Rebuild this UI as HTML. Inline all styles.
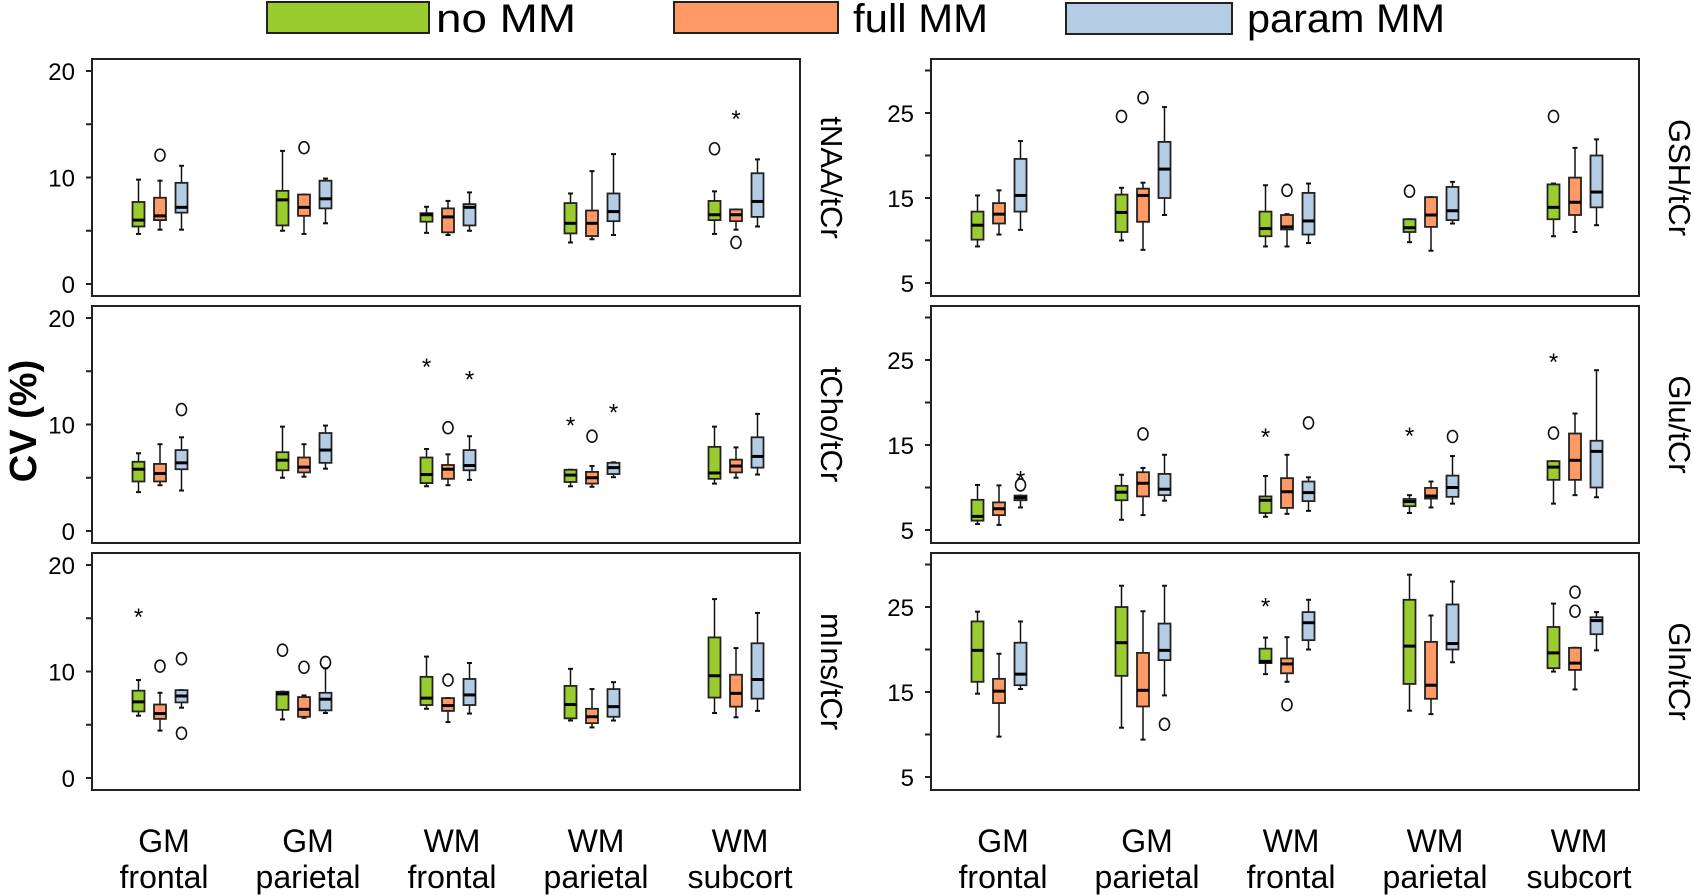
<!DOCTYPE html>
<html><head><meta charset="utf-8"><style>
html,body{margin:0;padding:0;background:#fff;}
svg{display:block;font-family:"Liberation Sans",Arial,sans-serif;}
</style></head><body>
<svg id="chart" width="1694" height="895" viewBox="0 0 1694 895" xmlns="http://www.w3.org/2000/svg">
<g>
<rect x="267" y="2" width="162" height="31" fill="#9acc30" stroke="#222" stroke-width="2"/>
<text x="436" y="32" font-size="40" textLength="140" lengthAdjust="spacingAndGlyphs">no MM</text>
<rect x="674" y="2" width="164" height="31" fill="#ff9966" stroke="#222" stroke-width="2"/>
<text x="853" y="32" font-size="40" textLength="135" lengthAdjust="spacingAndGlyphs">full MM</text>
<rect x="1066" y="3" width="166" height="31" fill="#b4cce4" stroke="#222" stroke-width="2"/>
<text x="1247" y="32" font-size="40" textLength="198" lengthAdjust="spacingAndGlyphs">param MM</text>
</g>
<text transform="translate(36,421) rotate(-90)" text-anchor="middle" font-size="38" font-weight="bold">CV (%)</text>
</svg>
<script>
const categories = [["GM","frontal"],["GM","parietal"],["WM","frontal"],["WM","parietal"],["WM","subcort"]];
const seriesNames = ["no MM","full MM","param MM"];
const leftTicks = [0,10,20];
const leftMinor = [5,15];
const rightTicks = [5,15,25];
const rightMinor = [10,20,30];

// [min, q1, median, q3, max] per category
const naaNoMM = [[4.7,5.4,6.0,7.7,9.8],[5.0,5.5,7.9,8.75,12.5],[4.8,5.85,6.5,6.65,7.25],[3.9,4.75,5.7,7.6,8.5],[4.7,6.0,6.5,7.8,8.7]];
const naaFull = [[5.1,6.0,6.4,8.1,9.7],[4.7,6.4,7.2,8.4,8.4],[4.6,4.85,6.3,7.1,7.8],[4.2,4.5,5.7,6.9,10.6],[5.1,5.9,6.5,7.0,7.0]];
const naaParam = [[5.1,6.7,7.2,9.5,11.1],[5.7,7.1,8.0,9.7,9.9],[5.0,5.5,7.2,7.5,8.6],[4.6,5.9,6.8,8.5,12.2],[5.4,6.3,7.75,10.4,11.7]];
const naaOutliers = [[0,1,12.1,"o"],[1,1,12.8,"o"],[4,0,12.7,"o"],[4,1,15.7,"*"],[4,1,3.9,"o"]];

const choNoMM = [[3.65,4.65,5.8,6.5,7.3],[5.0,5.7,6.65,7.4,9.8],[4.2,4.5,5.3,6.9,7.7],[4.2,4.6,5.25,5.75,5.75],[4.45,4.9,5.45,7.9,9.8]];
const choFull = [[4.3,4.65,5.4,6.3,8.15],[5.1,5.5,6.0,6.9,8.15],[4.3,4.9,5.8,6.2,7.2],[4.15,4.45,5.0,5.55,6.1],[5.0,5.5,6.1,6.7,7.85]];
const choParam = [[3.8,5.8,6.4,7.6,8.8],[5.85,6.4,7.6,9.2,9.9],[4.8,5.7,6.15,7.6,8.9],[5.05,5.35,5.95,6.4,6.45],[5.3,5.95,7.0,8.8,11.0]];
const choOutliers = [[0,2,11.4,"o"],[2,0,15.6,"*"],[2,1,9.7,"o"],[2,2,14.4,"*"],[3,0,10.1,"*"],[3,1,8.9,"o"],[3,2,11.3,"*"]];

const insNoMM = [[5.85,6.25,7.15,8.2,9.2],[5.5,6.4,7.9,8.1,8.1],[6.5,6.85,7.5,9.5,11.4],[5.4,5.6,6.9,8.65,10.25],[6.1,7.55,9.6,13.2,16.8]];
const insFull = [[4.45,5.55,6.05,6.9,8.0],[5.65,5.75,6.45,7.6,7.75],[5.25,6.3,6.8,7.5,7.5],[4.75,5.15,5.75,6.5,8.35],[5.7,6.7,7.95,9.7,12.2]];
const insParam = [[6.6,7.1,7.7,8.25,8.25],[6.1,6.35,7.4,8.0,10.3],[6.05,6.85,7.8,9.3,10.8],[5.4,5.75,6.7,8.35,9.0],[6.3,7.45,9.25,12.65,15.5]];
const insOutliers = [[0,0,15.3,"*"],[0,1,10.5,"o"],[0,2,11.2,"o"],[0,2,4.2,"o"],[1,0,12.0,"o"],[1,1,10.4,"o"],[1,2,10.85,"o"],[2,1,9.2,"o"]];

const gshNoMM = [[9.3,10.1,11.8,13.4,15.3],[10.0,11.0,13.3,15.4,16.2],[9.3,10.5,11.4,13.4,16.5],[9.8,11.0,11.5,12.5,12.5],[10.5,12.5,13.9,16.6,16.7]];
const gshFull = [[10.7,12.0,13.1,14.4,15.9],[8.9,12.2,15.3,16.1,16.8],[9.3,11.3,11.6,13.0,13.1],[8.8,11.6,13.0,15.1,15.1],[11.0,13.0,14.5,17.4,20.9]];
const gshParam = [[11.25,13.4,15.3,19.6,21.7],[13.0,15.0,18.4,21.6,25.7],[9.7,10.7,12.3,15.6,16.7],[12.0,12.4,13.5,16.3,16.9],[11.8,13.9,15.7,20.0,21.9]];
const gshOutliers = [[1,0,24.6,"o"],[1,1,26.8,"o"],[2,1,15.9,"o"],[3,0,15.8,"o"],[4,0,24.6,"o"]];

const gluNoMM = [[5.7,6.1,6.6,8.55,10.3],[6.2,8.5,9.45,10.2,11.5],[6.55,7.0,8.5,8.95,11.35],[7.0,7.8,8.35,8.65,9.1],[8.1,10.9,12.4,13.1,13.1]];
const gluFull = [[5.6,6.75,7.5,8.25,10.25],[6.75,8.95,10.5,11.8,12.3],[6.9,7.6,9.5,11.1,13.85],[7.65,8.7,9.0,9.95,10.7],[9.1,10.9,13.2,16.35,18.7]];
const gluParam = [[7.65,8.5,8.8,9.05,9.05],[8.45,9.1,9.8,11.6,13.85],[7.25,8.4,9.4,10.7,11.2],[8.1,8.9,10.0,11.4,13.7],[8.85,10.0,14.25,15.5,23.8]];
const gluOutliers = [[0,2,11.2,"*"],[0,2,10.3,"o"],[1,1,16.3,"o"],[2,0,16.2,"*"],[2,2,17.6,"o"],[3,0,16.3,"*"],[3,2,16.0,"o"],[4,0,25,"*"],[4,0,16.4,"o"]];

const glnNoMM = [[14.8,16.2,19.9,23.3,24.45],[10.8,16.9,20.8,25.0,27.5],[17.1,18.4,18.6,20.1,21.4],[12.8,15.95,20.4,25.85,28.8],[17.4,17.8,19.6,22.65,25.4]];
const glnFull = [[9.75,13.7,15.1,16.55,19.5],[9.4,13.3,15.2,19.6,24.5],[16.2,17.2,18.3,18.95,21.45],[12.4,14.2,15.8,20.9,24.0],[15.3,17.6,18.4,20.2,20.2]];
const glnParam = [[15.35,15.8,17.1,20.8,23.3],[14.6,18.75,19.9,23.05,27.5],[20.0,21.1,23.15,24.4,25.85],[18.5,20.0,20.7,25.3,28.0],[19.9,21.8,23.4,23.8,24.4]];
const glnOutliers = [[1,2,11.2,"o"],[2,0,25.3,"*"],[2,1,13.5,"o"],[4,1,26.75,"o"],[4,1,24.5,"o"]];

const NS = "http://www.w3.org/2000/svg";
const svg = document.getElementById("chart");
const colors = ["#9acc30","#ff9966","#b4cce4"];
function mk(tag, attrs, parent){const e=document.createElementNS(NS,tag);for(const k in attrs)e.setAttribute(k,attrs[k]);(parent||svg).appendChild(e);return e;}

const panels = [
 {label:"tNAA/tCr", key:"tnaa", side:0,row:0,s:[naaNoMM,naaFull,naaParam],o:naaOutliers},
 {label:"tCho/tCr", key:"tcho", side:0,row:1,s:[choNoMM,choFull,choParam],o:choOutliers},
 {label:"mIns/tCr", key:"mins", side:0,row:2,s:[insNoMM,insFull,insParam],o:insOutliers},
 {label:"GSH/tCr", key:"gsh", side:1,row:0,s:[gshNoMM,gshFull,gshParam],o:gshOutliers},
 {label:"Glu/tCr", key:"glu", side:1,row:1,s:[gluNoMM,gluFull,gluParam],o:gluOutliers},
 {label:"Gln/tCr", key:"gln", side:1,row:2,s:[glnNoMM,glnFull,glnParam],o:glnOutliers}
];
const panelTops = [59,306,553];
const PH = 237;

panels.forEach(p=>{
 const x0 = p.side===0 ? 92 : 931, x1 = x0+708;
 const top = panelTops[p.row], bot = top+PH;
 const ticks = p.side===0 ? leftTicks : rightTicks;
 const minor = p.side===0 ? leftMinor : rightMinor;
 const yTopVal = p.side===0 ? 20 : 25, yBotVal = p.side===0 ? 0 : 5;
 const yA = top + (p.side===0 ? 12 : 54), yB = top + (p.side===0 ? 225 : 224);
 const y = v => yB + (v - yBotVal) * (yA - yB) / (yTopVal - yBotVal);
 const gx = i => x0 + 68 + i*144;
 const g = mk("g",{});
 
 
 const frame = mk("rect",{x:x0,y:top,width:708,height:PH,fill:"none",stroke:"#222","stroke-width":2},g);
 
 
 ticks.concat(minor).forEach(t=>{
  const ty = y(t);
  if (ty < top || ty > bot) return;
  const tk = mk("line",{x1:x0-6,x2:x0,y1:ty,y2:ty,stroke:"#222","stroke-width":2},g);
  
  
 });
 ticks.forEach(t=>{
  const tl = mk("text",{x:x0-17,y:y(t)+9,"text-anchor":"end","font-size":24},g);
  tl.textContent = t;
  
  
 });
 const lx = p.side===0 ? x1 + 21 : x1 + 30, ly = (top+bot)/2;
 const lab = mk("text",{transform:`translate(${lx},${ly}) rotate(90)`,"text-anchor":"middle","font-size":31},g);
 lab.textContent = p.label;
 
 
 p.s.forEach((ser,si)=>{
  ser.forEach((b,ci)=>{
   const cx = gx(ci) + (si-1)*21.5, w = 12;
   const bg = mk("g",{},g);
   
   
   mk("line",{x1:cx,x2:cx,y1:y(b[4]),y2:y(b[0]),stroke:"#111","stroke-width":1.5},bg);
   mk("line",{x1:cx-2.5,x2:cx+2.5,y1:y(b[4]),y2:y(b[4]),stroke:"#111","stroke-width":2},bg);
   mk("line",{x1:cx-2.5,x2:cx+2.5,y1:y(b[0]),y2:y(b[0]),stroke:"#111","stroke-width":2},bg);
   mk("rect",{x:cx-w/2,y:y(b[3]),width:w,height:Math.max(1,y(b[1])-y(b[3])),fill:colors[si],stroke:"#222","stroke-width":1.8},bg);
   mk("line",{x1:cx-w/2,x2:cx+w/2,y1:y(b[2]),y2:y(b[2]),stroke:"#000","stroke-width":3},bg);
  });
 });
 p.o.forEach(o=>{
  const cx = gx(o[0]) + (o[1]-1)*21.5, cy = y(o[2]);
  if (o[3]==="o") {
   const c = mk("ellipse",{cx:cx,cy:cy,rx:5,ry:6,fill:"none",stroke:"#111","stroke-width":1.6},g);
   
   
  } else {
   const s = mk("text",{x:cx,y:cy+10,"text-anchor":"middle","font-size":24},g);
   s.textContent = "*";
   
   
  }
 });
});
[0,1].forEach(side=>{
 const x0 = side===0 ? 92 : 931;
 categories.forEach((c,i)=>{
  const cx = x0 + 72 + i*144;
  const t = mk("text",{x:cx,"text-anchor":"middle","font-size":32});
  
  
  const a = mk("tspan",{x:cx,y:852},t); a.textContent = c[0];
  const b = mk("tspan",{x:cx,y:888},t); b.textContent = c[1];
 });
});
</script>
</body></html>
